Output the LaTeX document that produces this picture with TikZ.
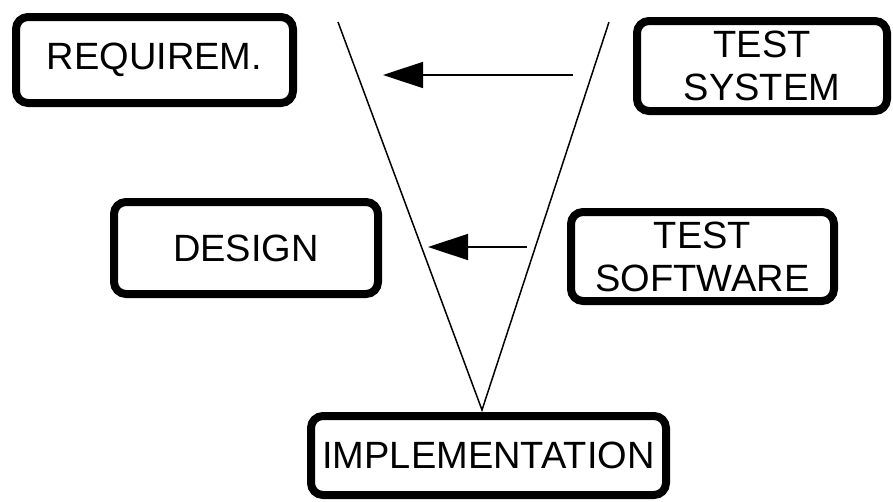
\documentclass[tikz,border=0pt]{standalone}
\usepackage{fontspec}
\setmainfont{Liberation Sans}
\usetikzlibrary{arrows.meta}

\tikzset{
  phase/.style={draw, line width=8pt, rounded corners=12pt, align=center,
    inner sep=0pt, font=\fontsize{38}{43}\selectfont},
  vline/.style={line width=1.5pt},
  feedback/.style={line width=1.5pt, -{Triangle[length=40pt,width=26pt]}}
}

\begin{document}
\begin{tikzpicture}[x=1pt,y=-1pt]
\useasboundingbox (0,0) rectangle (893,501);

\node[phase, minimum width=277pt, minimum height=86pt] (req) at (154.5,60) {REQUIREM.};
\node[phase, minimum width=264pt, minimum height=92pt] (des) at (246,248) {DESIGN};
\node[phase, minimum width=355pt, minimum height=79pt] (impl) at (488.5,455.5) {IMPLEMENTATION};
\node[phase, minimum width=263pt, minimum height=89pt] (sw) at (702.5,256.5) {TEST\\SOFTWARE};
\node[phase, minimum width=250pt, minimum height=90pt] (sys) at (762,66) {TEST\\SYSTEM};

% the V
\coordinate (vl) at (338,22);
\coordinate (vr) at (609,22);
\coordinate (apex) at (482,410);
\draw[vline] (vl) -- (apex) -- (vr);

% arrows back to the left arm
\coordinate (sysout) at (573,75);
\coordinate (reqin) at (383,75);
\draw[feedback] (sysout) -- (reqin);

\coordinate (swout) at (527,247);
\coordinate (desin) at (428,247);
\draw[feedback] (swout) -- (desin);
\end{tikzpicture}
\end{document}
